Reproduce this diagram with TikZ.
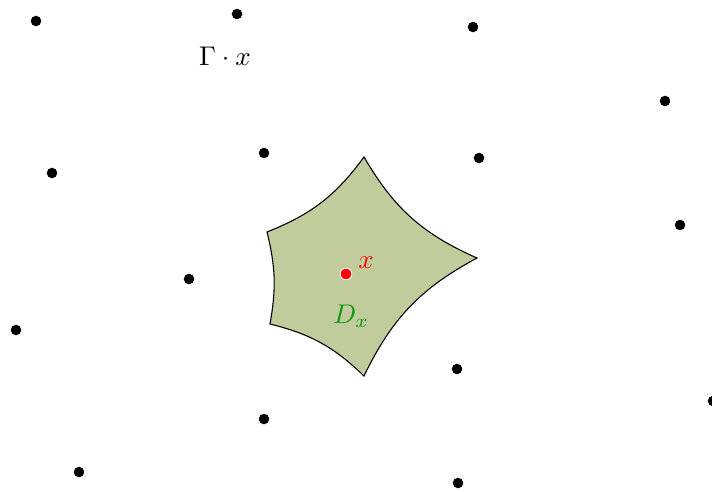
\documentclass[tikz,border=0pt]{standalone}
\definecolor{domfill}{RGB}{192,204,156}
\definecolor{dgreen}{RGB}{20,150,20}
\begin{document}
\begin{tikzpicture}[x=0.37pt,y=-0.37pt,
  orbit/.style={circle,fill=black,inner sep=0pt,minimum size=3.9pt},
  base/.style={circle,fill=red,draw=white,line width=0.3pt,inner sep=0pt,minimum size=4.3pt}]
\useasboundingbox (0,0) rectangle (712,491);
% domain
\coordinate (v1) at (364,157);
\coordinate (v2) at (477,258);
\coordinate (v3) at (364,376);
\coordinate (v4) at (270,324);
\coordinate (v5) at (267,232);
\draw[fill=domfill,line width=0.4pt] (v1) to[bend right=18] (v2) to[bend right=18] (v3)
  to[bend right=15] (v4) to[bend right=12] (v5) to[bend right=16] (v1) -- cycle;
% orbit points
\node[orbit] (p1) at (36,21) {};
\node[orbit] (p2) at (237,14) {};
\node[orbit] (p3) at (473,27) {};
\node[orbit] (p4) at (665,101) {};
\node[orbit] (p5) at (264,153) {};
\node[orbit] (p6) at (479,158) {};
\node[orbit] (p7) at (52,173) {};
\node[orbit] (p8) at (680,225) {};
\node[orbit] (p9) at (189,279) {};
\node[orbit] (p10) at (16,330) {};
\node[orbit] (p11) at (457,369) {};
\node[orbit] (p12) at (713,401) {};
\node[orbit] (p13) at (264,419) {};
\node[orbit] (p14) at (79,472) {};
\node[orbit] (p15) at (458,483) {};
\node[base] (x) at (346,274) {};
\node[text=red] (xl) at (366,263) {$x$};
\node[text=dgreen] (dl) at (351,316) {$D_x$};
\node (gl) at (225,56) {$\Gamma\cdot x$};
\end{tikzpicture}
\end{document}
